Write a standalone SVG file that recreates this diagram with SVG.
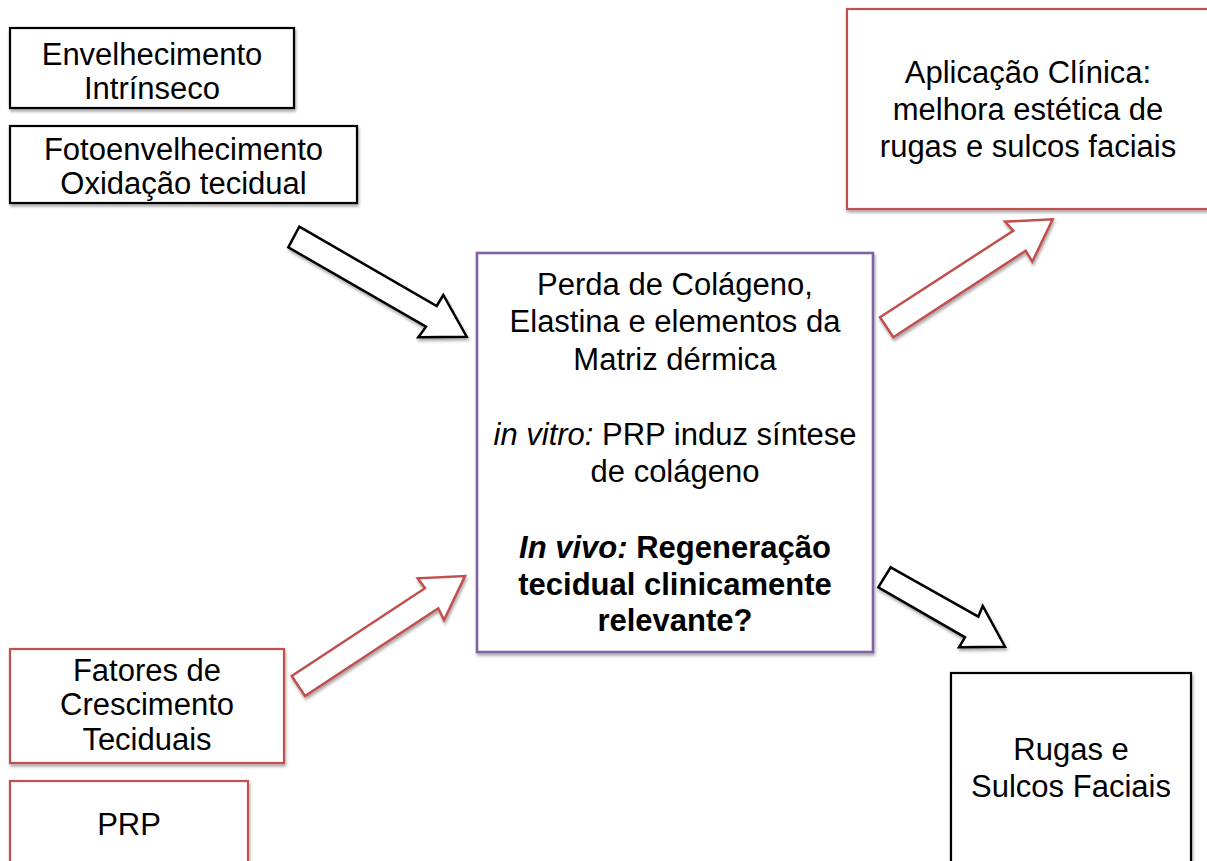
<svg xmlns="http://www.w3.org/2000/svg" width="1207" height="861" viewBox="0 0 1207 861">
<defs>
<filter id="sh" x="-10%" y="-10%" width="130%" height="130%">
<feDropShadow dx="1" dy="2.5" stdDeviation="1.5" flood-color="#000" flood-opacity="0.35"/>
</filter>
</defs>
<style>
.box{fill:#fff;stroke-width:2.2;filter:url(#sh)}
.blk{stroke:#000}
.red{stroke:#C0504D}
.pur{stroke:#8064A2;stroke-width:2.6}
.arr{fill:#fff;stroke-width:2.5;stroke-linejoin:miter;filter:url(#sh)}
text{font-family:"Liberation Sans",Arial,sans-serif;font-size:31px;fill:#000;text-anchor:middle}
.i{font-style:italic}
.b{font-weight:bold}
</style>
<rect width="1207" height="861" fill="#fff"/>
<g id="connectors">
<polygon class="arr blk" points="299.3,226.7 436.7,306 443.3,295 466.7,336.7 418.3,337.3 426,326.7 288.3,247.3"/>
<polygon class="arr red" points="880,317.3 1013.3,230.7 1005,221.7 1052.7,219.3 1032.3,261.7 1025.7,250.7 893.3,337.3"/>
<polygon class="arr red" points="291.7,676 425,588.3 417.7,578.3 465,576 444,620 438.3,608.3 305,696"/>
<polygon class="arr blk" points="890.7,567.3 978.3,616.7 982.7,606 1005,646.7 959,647.3 965,637.3 878.3,587.3"/>
</g>
<g id="n-envelhecimento">
<rect class="box blk" x="10" y="28" width="284" height="80"/>
<text x="152" y="65">Envelhecimento</text>
<text x="152" y="99">Intrínseco</text>
</g>
<g id="n-fotoenvelhecimento">
<rect class="box blk" x="10" y="126" width="347" height="77"/>
<text x="183.5" y="160">Fotoenvelhecimento</text>
<text x="183.5" y="194">Oxidação tecidual</text>
</g>
<g id="n-aplicacao">
<rect class="box red" x="847" y="9" width="362" height="200"/>
<text x="1028" y="83">Aplicação Clínica:</text>
<text x="1028" y="120">melhora estética de</text>
<text x="1028" y="157">rugas e sulcos faciais</text>
</g>
<g id="n-perda">
<rect class="box pur" x="477" y="253" width="396" height="399"/>
<text x="675" y="295">Perda de Colágeno,</text>
<text x="675" y="332">Elastina e elementos da</text>
<text x="675" y="370">Matriz dérmica</text>
<text x="675" y="445"><tspan class="i">in vitro:</tspan> PRP induz síntese</text>
<text x="675" y="482">de colágeno</text>
<text x="675" y="558" class="b"><tspan class="i">In vivo:</tspan> Regeneração</text>
<text x="675" y="595" class="b">tecidual clinicamente</text>
<text x="675" y="631" class="b">relevante?</text>
</g>
<g id="n-fatores">
<rect class="box red" x="10" y="649" width="274" height="114"/>
<text x="147" y="681">Fatores de</text>
<text x="147" y="715">Crescimento</text>
<text x="147" y="750">Teciduais</text>
</g>
<g id="n-prp">
<rect class="box red" x="10" y="781" width="238" height="88"/>
<text x="129" y="835">PRP</text>
</g>
<g id="n-rugas">
<rect class="box blk" x="951" y="673" width="240" height="195"/>
<text x="1071" y="760">Rugas e</text>
<text x="1071" y="797">Sulcos Faciais</text>
</g>
</svg>
